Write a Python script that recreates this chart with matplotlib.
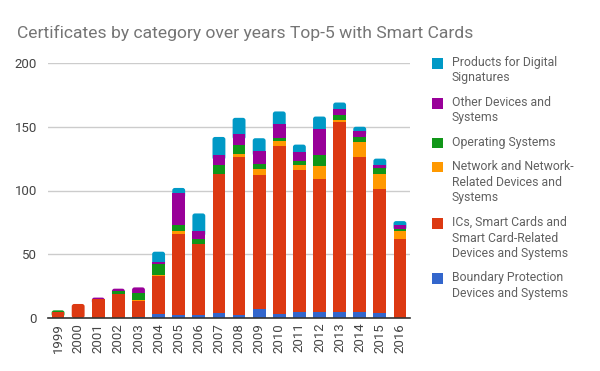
import matplotlib
matplotlib.use("Agg")
import matplotlib.pyplot as plt
from matplotlib.patches import Rectangle, FancyBboxPatch
import numpy as np

plt.rcParams['font.family'] = ['Roboto', 'DejaVu Sans']

years = ['1999', '2000', '2001', '2002', '2003', '2004', '2005', '2006', '2007',
         '2008', '2009', '2010', '2011', '2012', '2013', '2014', '2015', '2016']

boundary = [0, 0, 0, 0, 1, 3, 2, 2, 4, 2, 7, 3, 5, 5, 5, 5, 4, 0]
ics      = [5, 11, 15, 19, 12, 30, 64, 56, 109, 124, 105, 132, 111, 104, 149, 121, 97, 62]
network  = [0, 0, 0, 0, 1, 1, 2, 0, 0, 3, 5, 4, 4, 10, 1, 12, 12, 6]
opsys    = [1, 0, 0, 2, 6, 8, 5, 4, 7, 7, 4, 2, 3, 9, 4, 4, 5, 2]
other    = [0, 0, 1, 2, 4, 2, 25, 6, 8, 8, 10, 11, 7, 20, 5, 5, 2, 3]
digital  = [0, 0, 0, 0, 0, 8, 4, 14, 14, 13, 10, 10, 6, 10, 5, 3, 5, 3]

series_names = ['Boundary Protection\nDevices and Systems',
                'ICs, Smart Cards and\nSmart Card-Related\nDevices and Systems',
                'Network and Network-\nRelated Devices and\nSystems',
                'Operating Systems',
                'Other Devices and\nSystems',
                'Products for Digital\nSignatures']
series_vals = [boundary, ics, network, opsys, other, digital]
colors = ['#3366cc', '#dc3912', '#ff9900', '#109618', '#990099', '#0099c6']

W, H = 600, 371
fig = plt.figure(figsize=(6, 3.71), dpi=100)
ax = fig.add_axes([48 / W, 1 - 318 / H, (410 - 48) / W, (318 - 63) / H])

x = np.arange(len(years))
bw = 0.64
vals_arr = np.array(series_vals, dtype=float)
cum = np.cumsum(vals_arr, axis=0)
# pixels per data unit in x and y
px_x = (410 - 48) / len(years)
px_y = (318 - 63) / 200.0
aspect = px_x / px_y
rr = 2.5 / px_x  # ~2.5 px rounding radius

for i in range(len(years)):
    nz = [k for k in range(len(series_vals)) if vals_arr[k, i] > 0]
    top_k = nz[-1]
    for k in nz:
        b = cum[k, i] - vals_arr[k, i]
        if k == top_k:
            ext = min(4.0, b)
            p = FancyBboxPatch((x[i] - bw / 2, b - ext), bw, vals_arr[k, i] + ext,
                               boxstyle=f"round,pad=0,rounding_size={rr}",
                               mutation_aspect=aspect,
                               facecolor=colors[k], edgecolor='none', zorder=2.5)
            ax.add_patch(p)
        else:
            ax.bar(x[i], vals_arr[k, i], bottom=b, width=bw, color=colors[k],
                   edgecolor='none', zorder=3)

ax.set_xlim(-0.5, len(years) - 0.5)
ax.set_ylim(0, 200)
ax.set_yticks([0, 50, 100, 150, 200])
ax.yaxis.grid(True, color='#cccccc', linewidth=1, zorder=0)
ax.set_axisbelow(True)
for s in ['top', 'right', 'left']:
    ax.spines[s].set_visible(False)
ax.spines['bottom'].set_color('#333333')
ax.spines['bottom'].set_linewidth(1.2)
ax.spines['bottom'].set_zorder(4)
ax.tick_params(axis='both', length=0, labelsize=9.5, colors='#444444')
ax.tick_params(axis='y', pad=8)
ax.set_xticks(x)
ax.set_xticklabels(years, rotation=90)

fig.text(17 / W, 1 - 33 / H, 'Certificates by category over years Top-5 with Smart Cards',
         fontsize=12.6, color='#757575', va='center', ha='left')

# legend (top to bottom: reversed series order)
legend_y = [63, 103, 143, 167, 223, 278]
for yy, name, c in zip(legend_y, series_names[::-1], colors[::-1]):
    fig.patches.append(Rectangle((432 / W, 1 - (yy + 5.5) / H), 11 / W, 11 / H,
                                 transform=fig.transFigure, facecolor=c, edgecolor='none'))
    fig.text(452 / W, 1 - (yy - 7) / H, name, fontsize=8.8, color='#616161',
             va='top', ha='left', linespacing=1.25)

fig.savefig('out.png', dpi=100)
